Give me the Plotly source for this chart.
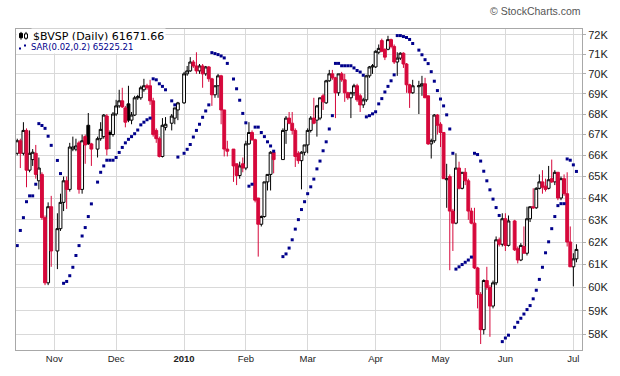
import math
import plotly.graph_objects as go

# ---------------- data (values in thousands of points, None = no trading) ----------------
opens = [
    66.1, 66.7, 66.1, 67.2, 65.3, 65.8, 66.1, 64.8, 65.1, 63.1, 60.2, 63.6, None,
    61.6, 62.6, 63.8, 64.8, 64.4, 66.3, 66.3, 66.6, 64.4, 66.9, 67.45, 66.55, None,
    66.3, 66.8, 66.9, 67.9, 67.1, 67.0, 68.0, 68.4, 68.65, 68.3, 68.5, 67.7, 67.95, 68.8, 68.8, 69.2, 69.4, 69.4, 68.65, 67.2, 66.8, 65.95, 67.35, None,
    67.55, 67.8, 68.2, None,
    68.55, 70.0, 70.15, 70.6, 70.4, 70.15, 70.4, 70.0, 70.35, 69.75, 68.95, 69.4, 69.9, 68.2, 66.3, None,
    66.3, 65.6, 65.05, 65.6, 65.4, 66.55, 67.1, 66.75, 64.0, 62.8, 63.15, 64.75, 65.1, 66.15, None, None,
    65.8, 67.2, 67.8, 67.55, 67.2, 66.1, 65.75, 66.15, 66.5, 67.2, 67.8, 67.7, 67.8, 68.9, 68.55, 69.65, 70.0, 69.8, 69.05, 70.0, 69.7, 69.05, 68.8, 69.05, 69.4, 68.9, 68.45, 68.7, 69.9, 70.35, 70.35, 71.1, 71.7, 71.25, 71.25, 71.75, 71.4, 70.6, 70.8, 71.05, 70.5, 69.45, 69.05, None,
    69.35, 69.4, 69.5, 68.9, 66.55, 66.7, 67.95, 67.5, 67.1, 64.85, 65.0, 63.4, 62.85, 65.4, 64.45, 65.2, 64.8, 63.4, 62.85, 60.85, 59.7, 58.2, 60.3, 60.0, 59.2, 60.2, 62.1, 61.9, 63.05, 61.85, None,
    62.95, 61.7, 61.2, 61.8, 61.5, 63.05, 63.6, 63.55, 64.45, 64.75, 64.55, 64.45, 64.9, 64.75, 65.2, 64.0, 64.9, 64.2, 62.0, 60.9, 61.25,
]
highs = [
    66.8, 66.8, 67.6, 67.3, 67.2, 66.3, 66.5, 65.9, 65.2, 63.2, 63.8, 64.1, None,
    63.3, 64.2, 65.0, 65.0, 66.6, 66.9, 66.8, 66.7, 67.0, 67.0, 68.05, 66.6, None,
    66.9, 67.6, 68.0, 68.0, 67.2, 68.1, 68.7, 69.2, 69.3, 68.4, 69.4, 68.1, 68.9, 68.95, 69.4, 69.75, 69.5, 69.7, 68.8, 67.3, 66.9, 67.8, 67.85, None,
    68.0, 68.3, 68.6, None,
    70.1, 70.4, 70.85, 70.7, 71.1, 70.5, 70.5, 70.4, 70.4, 69.8, 69.4, 70.0, 69.95, 68.2, 66.7, None,
    66.3, 65.6, 65.7, 65.9, 66.7, 67.6, 67.2, 66.8, 64.0, 63.2, 64.75, 65.1, 66.2, 66.2, None, None,
    67.3, 67.9, 68.1, 68.1, 67.3, 66.2, 66.2, 66.5, 67.3, 67.9, 68.8, 68.45, 68.8, 69.0, 69.7, 70.2, 70.2, 69.85, 70.0, 70.1, 70.0, 69.1, 69.1, 69.5, 69.5, 69.0, 68.8, 69.95, 70.4, 70.5, 71.2, 71.5, 71.8, 71.3, 71.95, 71.8, 71.5, 71.1, 71.1, 71.1, 70.55, 69.5, 69.7, None,
    69.65, 69.9, 69.8, 68.9, 66.8, 68.0, 68.0, 67.6, 67.1, 65.6, 65.1, 63.5, 66.1, 65.7, 65.2, 65.4, 64.9, 63.55, 63.55, 60.9, 59.8, 60.35, 60.9, 60.1, 60.3, 62.25, 62.2, 63.3, 63.3, 63.2, None,
    63.0, 61.8, 61.95, 62.7, 63.6, 63.6, 64.45, 64.5, 65.1, 65.3, 64.9, 65.5, 65.8, 65.3, 65.2, 65.0, 65.1, 65.2, 62.7, 61.5, 61.9,
]
lows = [
    66.0, 65.4, 66.0, 64.5, 65.2, 65.5, 64.9, 64.4, 63.0, 60.1, 60.1, 60.9, None,
    60.8, 62.5, 63.4, 63.5, 64.3, 66.2, 66.2, 64.2, 64.2, 65.6, 66.5, 65.5, None,
    65.9, 66.7, 66.8, 66.0, 66.3, 66.9, 67.9, 68.3, 68.3, 67.35, 67.6, 67.5, 67.9, 68.7, 68.7, 69.1, 69.2, 68.45, 66.9, 66.6, 65.9, 65.9, 67.2, None,
    67.2, 67.5, 67.7, None,
    68.5, 69.9, 70.1, 70.3, 70.0, 70.0, 69.3, 69.9, 69.6, 68.4, 68.8, 68.8, 67.5, 65.95, 65.95, None,
    64.75, 64.6, 64.9, 65.2, 65.3, 66.5, 66.7, 63.8, 61.35, 62.7, 63.1, 64.35, 64.35, 65.15, None, None,
    65.8, 66.55, 67.5, 67.0, 65.45, 65.6, 64.4, 66.0, 66.1, 67.1, 67.5, 66.9, 67.7, 68.2, 68.5, 69.6, 69.7, 67.8, 68.9, 69.6, 68.6, 68.7, 67.8, 68.9, 68.6, 68.1, 68.3, 68.6, 69.8, 70.0, 70.3, 71.0, 71.1, 70.7, 71.2, 71.3, 70.5, 69.9, 70.7, 70.3, 69.05, 68.3, 69.0, None,
    68.0, 68.9, 68.8, 66.5, 65.85, 66.6, 67.0, 66.4, 64.9, 63.55, 60.75, 61.6, 62.8, 64.4, 64.4, 64.6, 63.0, 62.8, 60.8, 59.1, 57.6, 58.0, 59.9, 57.9, 59.1, 60.1, 61.8, 61.8, 61.6, 61.8, None,
    61.6, 61.05, 61.15, 61.5, 61.4, 62.9, 63.5, 63.5, 64.4, 64.2, 64.3, 64.4, 64.7, 64.6, 63.9, 63.9, 64.1, 61.8, 60.9, 60.05, 61.1,
]
closes = [
    66.7, 66.1, 67.2, 65.3, 66.1, 66.15, 65.1, 65.4, 63.1, 60.2, 63.6, 61.6, None,
    62.6, 63.8, 64.8, 64.4, 66.4, 66.4, 66.45, 64.4, 66.7, 66.5, 66.55, 66.3, None,
    66.8, 67.25, 67.95, 66.3, 67.0, 68.0, 68.4, 68.65, 68.35, 67.6, 67.7, 67.95, 68.8, 68.85, 69.3, 69.4, 69.3, 68.65, 67.0, 66.8, 65.95, 67.45, 67.5, None,
    67.9, 68.3, 68.55, None,
    70.0, 70.15, 70.6, 70.4, 70.15, 70.4, 70.0, 70.35, 69.75, 68.95, 69.4, 69.9, 68.2, 66.3, 66.2, None,
    65.5, 65.05, 65.5, 65.4, 66.55, 67.1, 66.75, 63.9, 62.8, 63.15, 64.75, 65.1, 66.15, 65.8, None, None,
    67.2, 67.8, 67.55, 67.2, 65.95, 65.75, 66.15, 66.5, 67.2, 67.8, 67.55, 68.4, 68.8, 68.6, 69.65, 70.0, 69.8, 69.05, 70.0, 69.7, 69.05, 68.8, 69.05, 69.4, 68.7, 68.45, 68.7, 69.9, 70.35, 70.4, 71.15, 71.3, 71.15, 70.85, 71.75, 71.4, 70.6, 70.8, 71.05, 70.5, 69.45, 69.05, 69.4, None,
    69.4, 69.5, 68.8, 66.55, 66.7, 67.95, 67.45, 67.1, 64.9, 64.9, 63.4, 62.85, 65.4, 64.45, 65.2, 64.8, 63.4, 62.85, 60.85, 59.7, 58.2, 60.3, 60.0, 59.2, 60.2, 62.1, 61.9, 63.05, 61.85, 62.95, None,
    61.65, 61.2, 61.85, 61.5, 63.05, 63.6, 63.55, 64.45, 64.75, 64.5, 64.4, 64.85, 64.75, 65.2, 64.0, 64.9, 64.2, 62.0, 60.9, 61.25, 61.67,
]
sar = [
    61.84, 62.52, 63.1, 63.83, 64.1, 64.1, 64.64, 67.53, 67.44, 67.3, 66.92, 66.48, None,
    65.76, 65.14, 60.18, 60.26, 60.51, 60.88, 61.4, 61.84, 62.27, 62.65, 63.15, 63.73, None,
    64.74, 65.2, 65.5, 65.77, 65.77, 65.77, 65.9, 66.14, 66.38, 66.6, 66.77, 66.9, 67.04, 67.22, 67.47, 67.6, 67.72, 67.8, 69.75, 69.7, 69.5, 69.37, 69.2, None,
    68.65, 68.45, 65.92, None,
    66.1, 66.29, 66.52, 66.88, 67.2, 67.5, 67.84, 68.15, 68.45, 71.08, 71.03, 70.98, 70.91, 70.81, 70.53, None,
    69.74, 69.25, 68.68, 68.03, 67.57, 64.55, 64.64, 67.36, 67.36, 67.1, 66.9, 66.65, 66.45, 66.2, None, None,
    61.35, 61.47, 61.73, 62.1, 62.58, 63.01, 63.47, 63.83, 64.2, 64.52, 64.88, 65.36, 65.73, 66.22, 66.65, 67.27, 67.92, 70.53, 70.53, 70.41, 70.41, 70.41, 70.41, 70.3, 70.17, 70.09, 69.93, 67.86, 67.92, 68.01, 68.11, 68.5, 68.76, 69.09, 69.37, 69.65, 69.95, 71.96, 71.96, 71.91, 71.86, 71.76, 71.55, None,
    71.21, 70.97, 70.72, 70.52, 70.11, 69.63, 69.16, 68.74, 68.4, 67.96, 67.27, 66.1, 60.8, 60.9, 61.0, 61.1, 61.2, 61.33, 66.1, 66.04, 65.73, 65.25, 64.8, 64.38, 63.95, 63.56, 63.2, 57.7, 57.85, 57.97, None,
    58.3, 58.51, 58.68, 58.86, 59.05, 59.22, 59.51, 59.88, 60.35, 60.88, 61.52, 62.01, 62.6, 63.15, 63.65, 63.74, 63.74, 65.83, 65.77, 65.55, 65.24,
]
month_labels = ["Nov", "Dec", "<b>2010</b>", "Feb", "Mar", "Apr", "May", "Jun", "Jul"]
month_slots = [12, 32, 54, 74, 94, 116, 137, 158, 180]
price_ticks = list(range(58, 73))
last_close = "61671.66"
last_sar = "65225.21"

RED = "#d6083b"
NAVY = "#00008b"
GRID = "#d9d9d9"

n = len(closes)
slots = list(range(n))

# StockCharts colouring: black when close >= previous close, red otherwise
bo, bh, bl, bc = [], [], [], []
ro, rh, rl, rc = [], [], [], []
prev = None
for i in range(n):
    if closes[i] is None:
        for lst in (bo, bh, bl, bc, ro, rh, rl, rc):
            lst.append(None)
        continue
    red = prev is not None and closes[i] < prev
    tgt, oth = ((ro, rh, rl, rc), (bo, bh, bl, bc)) if red else ((bo, bh, bl, bc), (ro, rh, rl, rc))
    tgt[0].append(opens[i]); tgt[1].append(highs[i]); tgt[2].append(lows[i]); tgt[3].append(closes[i])
    for lst in oth:
        lst.append(None)
    prev = closes[i]

fig = go.Figure()
fig.add_trace(go.Candlestick(
    x=slots, open=bo, high=bh, low=bl, close=bc, whiskerwidth=0,
    increasing=dict(line=dict(color="black", width=1), fillcolor="white"),
    decreasing=dict(line=dict(color="black", width=1), fillcolor="black"),
    hoverinfo="skip", showlegend=False))
fig.add_trace(go.Candlestick(
    x=slots, open=ro, high=rh, low=rl, close=rc, whiskerwidth=0,
    increasing=dict(line=dict(color=RED, width=1), fillcolor="white"),
    decreasing=dict(line=dict(color=RED, width=1), fillcolor=RED),
    hoverinfo="skip", showlegend=False))
fig.add_trace(go.Scatter(
    x=slots, y=sar, mode="markers",
    marker=dict(symbol="square", size=3, color=NAVY, line=dict(width=0)),
    hoverinfo="skip", showlegend=False))

L, R, T, B = 16, 38, 29, 17
W, H = 620, 376
pw, ph = W - L - R, H - T - B


def px(x):
    return (x - L) / pw


def py(y):
    return (H - B - y) / ph


fig.update_layout(
    width=W, height=H,
    margin=dict(l=L, r=R, t=T, b=B, pad=0),
    paper_bgcolor="white", plot_bgcolor="white",
    boxgap=0.08, boxgroupgap=0.0, boxmode="overlay",
    font=dict(family="Liberation Sans, Arial, sans-serif", color="#222"),
    xaxis=dict(
        range=[-0.4, 182.8], tickmode="array", tickvals=month_slots, ticktext=month_labels,
        showgrid=True, gridcolor=GRID, gridwidth=1, zeroline=False,
        showline=True, linecolor="#a8a8a8", mirror=True,
        ticks="", tickfont=dict(size=9.5, color="#222"),
        rangeslider=dict(visible=False), fixedrange=True,
    ),
    yaxis=dict(
        type="log", side="right",
        range=[math.log10(57.352), math.log10(72.303)],
        tickmode="array", tickvals=price_ticks, ticktext=[f"{v}K" for v in price_ticks],
        showgrid=True, gridcolor=GRID, gridwidth=1, zeroline=False,
        showline=True, linecolor="#a8a8a8", mirror=True,
        ticks="outside", ticklen=3, tickcolor="#b0b0b0",
        tickfont=dict(size=11, color="#222"), fixedrange=True,
    ),
    annotations=[
        dict(xref="paper", yref="paper", x=px(31), y=py(36.5), xanchor="left", yanchor="middle",
             text=f"$BVSP (Daily) {last_close}", showarrow=False,
             font=dict(family="DejaVu Sans", size=11, color="black"),
             bgcolor="white", borderpad=1),
        dict(xref="paper", yref="paper", x=px(29), y=py(47), xanchor="left", yanchor="middle",
             text=f"SAR(0.02,0.2) {last_sar}", showarrow=False,
             font=dict(family="DejaVu Sans", size=8.5, color=NAVY),
             bgcolor="white", borderpad=1),
        dict(xref="paper", yref="paper", x=px(583), y=py(10), xanchor="right", yanchor="middle",
             text="© StockCharts.com", showarrow=False,
             font=dict(family="Liberation Sans, Arial", size=10.5, color="#555")),
    ],
)

# white backing behind legend text (hides grid lines as in the reference)
shapes = [
    dict(type="rect", xref="paper", yref="paper", x0=px(16.5), x1=px(165), y0=py(29.5), y1=py(51),
         fillcolor="white", line=dict(width=0), layer="above"),
    # candle icon
    dict(type="line", xref="paper", yref="paper", x0=px(21), x1=px(21), y0=py(32), y1=py(40),
         line=dict(color="black", width=1), layer="above"),
    dict(type="rect", xref="paper", yref="paper", x0=px(19.5), x1=px(22.5), y0=py(33.5), y1=py(38),
         fillcolor="black", line=dict(color="black", width=1), layer="above"),
    dict(type="line", xref="paper", yref="paper", x0=px(26), x1=px(26), y0=py(32), y1=py(40),
         line=dict(color="black", width=1), layer="above"),
    dict(type="rect", xref="paper", yref="paper", x0=px(24.5), x1=px(27.5), y0=py(34), y1=py(38.5),
         fillcolor="white", line=dict(color="black", width=1), layer="above"),
    # SAR icon dots
    dict(type="rect", xref="paper", yref="paper", x0=px(19), x1=px(21), y0=py(48), y1=py(50),
         fillcolor=NAVY, line=dict(width=0), layer="above"),
    dict(type="rect", xref="paper", yref="paper", x0=px(24), x1=px(26), y0=py(45), y1=py(47),
         fillcolor=NAVY, line=dict(width=0), layer="above"),
]
fig.update_layout(shapes=shapes)

fig.write_html(
    "out.html",
    config={"responsive": False, "displayModeBar": False},
    post_script="document.body.style.margin='0px';document.body.style.padding='0px';document.body.style.overflow='hidden';",
)
